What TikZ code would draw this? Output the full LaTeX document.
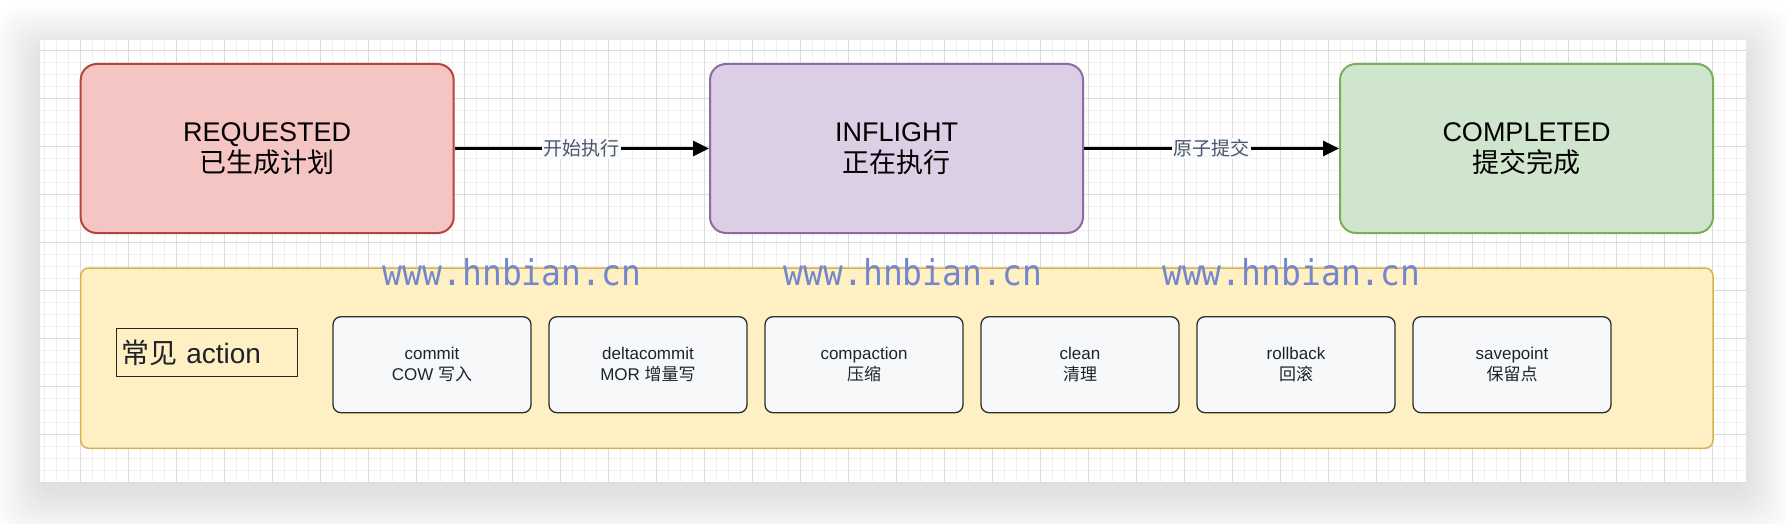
\documentclass[tikz,border=0pt]{standalone}
\usepackage{fontspec}
\setmainfont{Liberation Sans}
\newfontfamily\cjk{Noto Sans CJK SC}
\newfontfamily\wmfont{DejaVu Sans Mono}
\usetikzlibrary{arrows.meta}
\definecolor{reqfill}{HTML}{F5C5C4}
\definecolor{reqdraw}{HTML}{B5453F}
\definecolor{inffill}{HTML}{DCCEE4}
\definecolor{infdraw}{HTML}{8F6AA3}
\definecolor{compfill}{HTML}{D0E5CD}
\definecolor{compdraw}{HTML}{7AAF5A}
\definecolor{yfill}{HTML}{FFF0C4}
\definecolor{ydraw}{HTML}{D6B24E}
\definecolor{actfill}{HTML}{F7F8FA}
\definecolor{actdraw}{HTML}{2E2E2E}
\definecolor{txt}{HTML}{1F2329}
\definecolor{lbltxt}{HTML}{4A5568}
\definecolor{lblbg}{HTML}{F8FAFC}
\definecolor{wm}{HTML}{7486CC}
\definecolor{gridmajor}{HTML}{DCDCDC}
\definecolor{gridminor}{HTML}{F0F0F0}
\begin{document}
\begin{tikzpicture}[x=1pt,y=-1pt,
  mainbox/.style={draw, line width=2pt, rounded corners=16pt, minimum width=373pt, minimum height=169pt, align=center, font=\fontsize{27}{31.5}\selectfont, inner sep=0pt},
  actbox/.style={draw=actdraw, fill=actfill, line width=1.3pt, rounded corners=8pt, minimum width=198pt, minimum height=96pt, align=center, font=\fontsize{17}{21.4}\selectfont, text=txt, inner sep=0pt},
  flow/.style={line width=3.3pt, -{Triangle[length=16pt,width=15pt]}},
  flowlbl/.style={fill=lblbg, text=lbltxt, font=\fontsize{19}{21}\selectfont\cjk, inner sep=1.5pt},
  wmark/.style={text=wm, anchor=base west, inner sep=0pt}]
\useasboundingbox (0,0) rectangle (1786,524);
\fill[white] (0,0) rectangle (1786,524);
% shadow of canvas
\foreach \i in {1,...,30}{
  \fill[black, opacity=0.0038, rounded corners=24pt] ({40-\i*1.5},{50-\i*1.5}) rectangle ({1746+\i*1.5},{493+\i*1.5});
}
\fill[white] (40,40) rectangle (1746,483);
% grid
\foreach \k in {0,...,141}{
  \draw[gridminor, line width=1pt] ({44.7+12*\k},40) -- ({44.7+12*\k},483);
}
\foreach \k in {0,...,36}{
  \draw[gridminor, line width=1pt] (40,{50.7+12*\k}) -- (1746,{50.7+12*\k});
}
\foreach \k in {0,...,34}{
  \draw[gridmajor, line width=1pt] ({80.7+48*\k},40) -- ({80.7+48*\k},483);
}
\foreach \k in {0,...,9}{
  \draw[gridmajor, line width=1pt] (40,{50.7+48*\k}) -- (1746,{50.7+48*\k});
}
% state boxes
\node[mainbox, draw=reqdraw, fill=reqfill] (req) at (267.2,148.5) {REQUESTED\\{\cjk 已生成计划}};
\node[mainbox, draw=infdraw, fill=inffill] (inf) at (896.5,148.5) {INFLIGHT\\{\cjk 正在执行}};
\node[mainbox, draw=compdraw, fill=compfill] (comp) at (1526.5,148.5) {COMPLETED\\{\cjk 提交完成}};
\draw[flow] (req) -- node[flowlbl] {开始执行} (inf);
\draw[flow] (inf) -- node[flowlbl] {原子提交} (comp);
% action group
\node[draw=ydraw, fill=yfill, line width=1.5pt, rounded corners=8pt, minimum width=1632.3pt, minimum height=180.3pt, inner sep=0pt] (grp) at (896.85,358.15) {};
\node[draw=black!85, line width=1.3pt, minimum width=180.6pt, minimum height=48.4pt, text width=172pt, align=left, inner xsep=4pt, inner ysep=0pt, font=\fontsize{28}{30}\selectfont, text=txt] (title) at (207,352.5) {{\cjk 常见} action};
\node[actbox] (a1) at (432,364.7) {commit\\COW {\cjk 写入}};
\node[actbox] (a2) at (648,364.7) {deltacommit\\MOR {\cjk 增量写}};
\node[actbox] (a3) at (864,364.7) {compaction\\{\cjk 压缩}};
\node[actbox] (a4) at (1080,364.7) {clean\\{\cjk 清理}};
\node[actbox] (a5) at (1296,364.7) {rollback\\{\cjk 回滚}};
\node[actbox] (a6) at (1512,364.7) {savepoint\\{\cjk 保留点}};
% watermark
\node[wmark] (w1) at (382.7,285) {\scalebox{1}[1.08]{\fontsize{33}{33}\selectfont\wmfont www.hnbian.cn}};
\node[wmark] (w2) at (783.5,285) {\scalebox{1}[1.08]{\fontsize{33}{33}\selectfont\wmfont www.hnbian.cn}};
\node[wmark] (w3) at (1162,285) {\scalebox{1}[1.08]{\fontsize{33}{33}\selectfont\wmfont www.hnbian.cn}};
\end{tikzpicture}
\end{document}
